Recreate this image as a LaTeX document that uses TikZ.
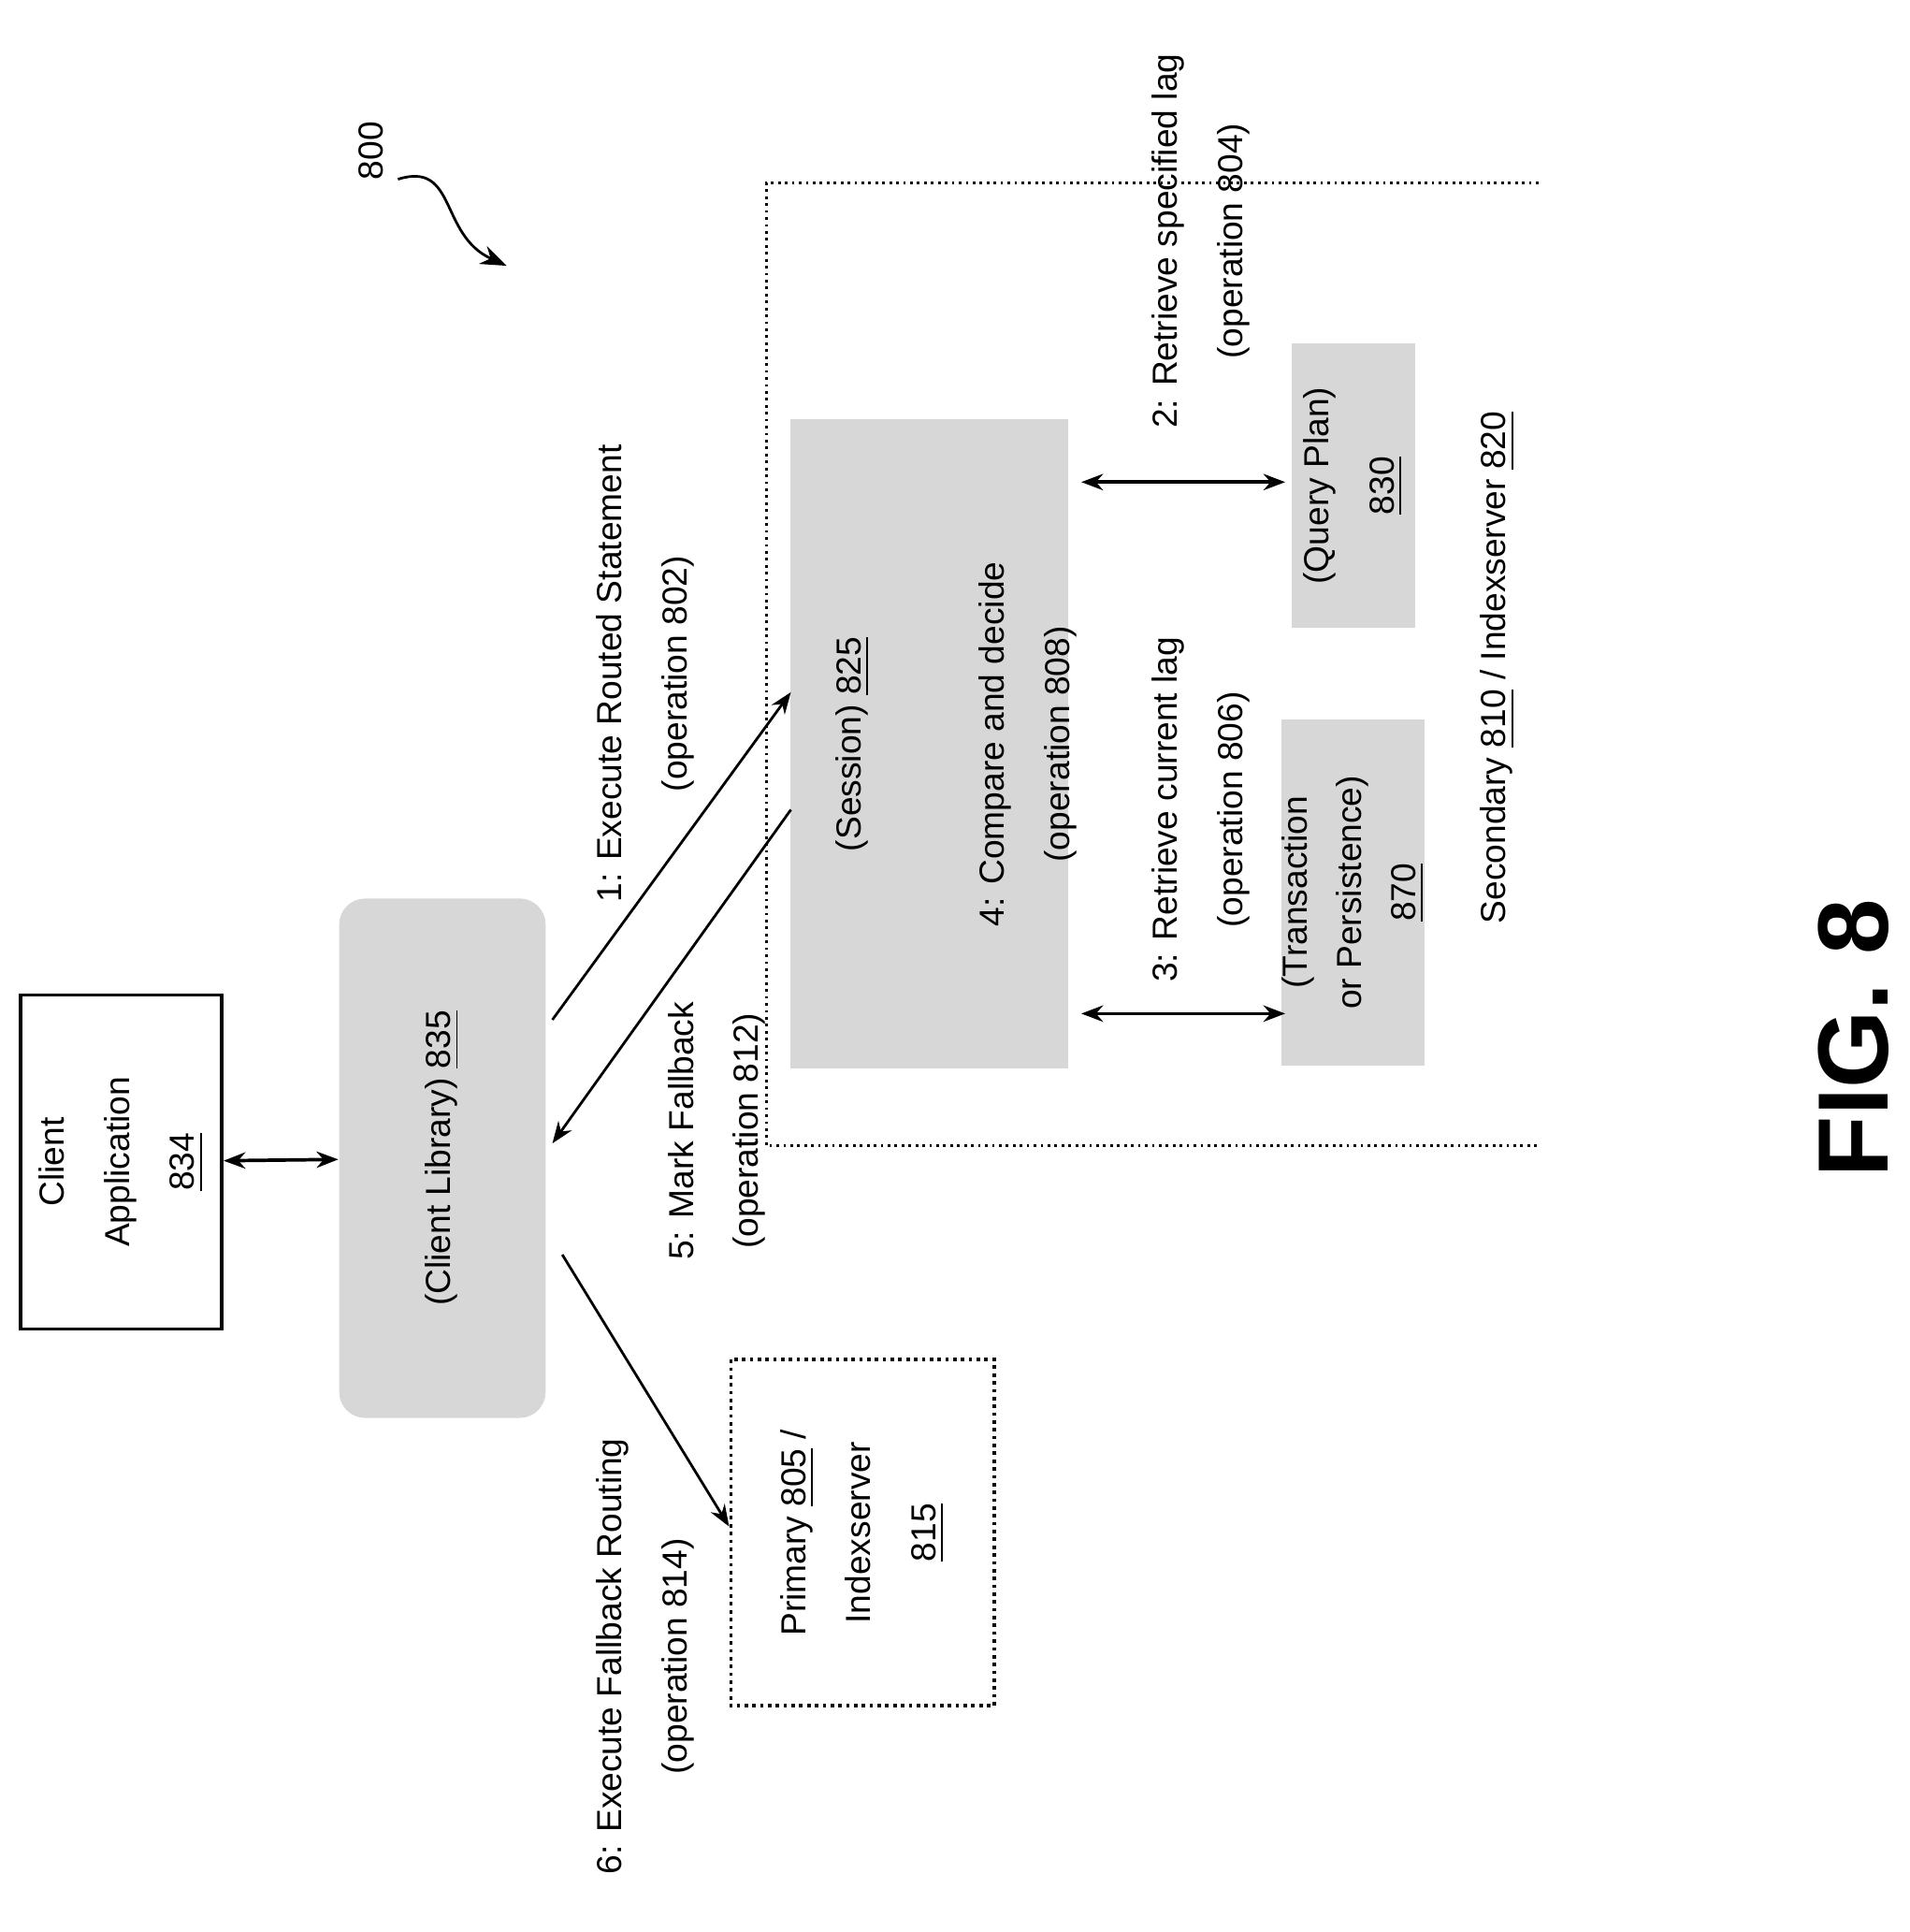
\documentclass[tikz,border=0pt]{standalone}
\usepackage{fontspec}
\setmainfont{Liberation Sans}
\usetikzlibrary{arrows.meta, positioning, decorations.pathmorphing}
\definecolor{shade_gray}{RGB}{215, 215, 215}
\begin{document}
\begin{tikzpicture}[x=0.01cm, y=0.01cm,
        every node/.style={font=\fontsize{8}{15}\selectfont, align=center, rotate=90, inner sep=0pt},
        plain/.style={draw, line width=0.8pt},
        shaded/.style={fill=shade_gray, rounded corners=6pt},
        flat/.style={fill=shade_gray},
        link/.style={-{Stealth[length=5pt]}, line width=0.6pt},
        both/.style={{Stealth[length=5pt]}-{Stealth[length=5pt]}, line width=0.8pt},
      ]
        \useasboundingbox (0,0) rectangle (1545,-1563);

        % secondary container
        \draw[densely dotted, line width=0.6pt] (1245,-148) -- (620,-148) -- (620,-927) -- (1245,-927);
        \node (sec) at (1212,-540) {Secondary \underline{810} / Indexserver \underline{820}};

        \node[plain, minimum width=2.7cm, minimum height=1.63cm] (app) at (98,-940) {Client\\Application\\\underline{834}};
        \node[shaded, minimum width=4.2cm, minimum height=1.67cm] (lib) at (358,-937) {(Client Library) \underline{835}};
        \node[flat, minimum width=5.25cm, minimum height=2.25cm] (ses) at (752,-602) {};
        \node (sestxt) at (690,-602) {(Session) \underline{825}};
        \node (cmp) at (832,-602) {4: Compare and decide\\(operation 808)};
        \node[flat, minimum width=2.3cm, minimum height=1.0cm] (qp) at (1095,-393) {(Query Plan)\\\underline{830}};
        \node[flat, minimum width=2.8cm, minimum height=1.0cm, font=\fontsize{8}{12.5}\selectfont] (tp) at (1095,-722) {(Transaction\\or Persistence)\\\underline{870}};
        \node[draw, densely dotted, line width=0.8pt, minimum width=2.8cm, minimum height=2.13cm] (pri) at (698,-1240) {Primary \underline{805} /\\Indexserver\\\underline{815}};

        \coordinate (a1s) at (447,-825);
        \coordinate (a1e) at (640,-560);
        \coordinate (a5s) at (640,-655);
        \coordinate (a5e) at (447,-925);
        \coordinate (a6s) at (455,-1015);
        \coordinate (a6e) at (590,-1235);

        \draw[both] (app) -- (lib);
        \draw[link] (a1s) -- (a1e);
        \draw[link] (a5s) -- (a5e);
        \draw[link] (a6s) -- (a6e);
        \draw[both] (875,-390) -- (1040,-390);
        \draw[both] (875,-820) -- (1040,-820);

        \node (l1) at (522,-545) {1: Execute Routed Statement\\(operation 802)};
        \node (l5) at (580,-915) {5: Mark Fallback\\(operation 812)};
        \node (l6) at (522,-1340) {6: Execute Fallback Routing\\(operation 814)};
        \node (l2) at (972,-195) {2: Retrieve specified lag\\(operation 804)};
        \node (l3) at (972,-655) {3: Retrieve current lag\\(operation 806)};

        \node (ref) at (300,-122) {800};
        \coordinate (refs) at (322,-145);
        \coordinate (refe) at (410,-215);
        \draw[-{Stealth[length=6pt]}, line width=0.6pt] (refs) .. controls (370,-130) and (355,-190) .. (refe);

        \node[font=\bfseries\fontsize{23}{28}\selectfont] (fig) at (1500,-840) {FIG. 8};
      \end{tikzpicture}
\end{document}
